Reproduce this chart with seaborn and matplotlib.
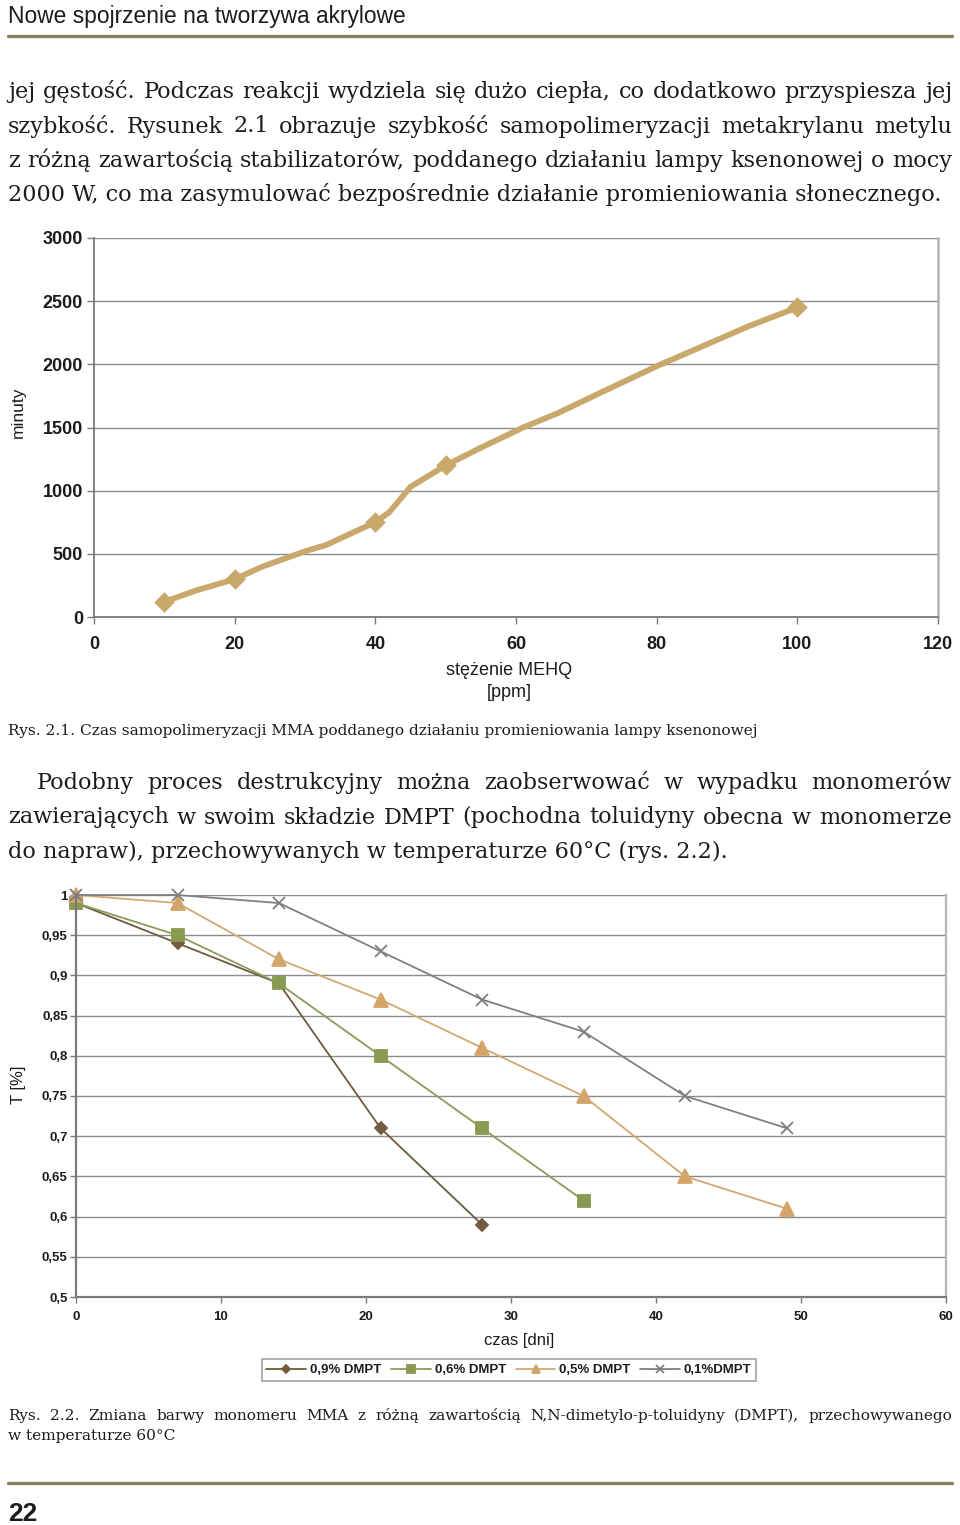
import matplotlib
matplotlib.use("Agg")
import matplotlib.pyplot as plt
import seaborn as sns

# Rys. 2.1 - czas samopolimeryzacji MMA vs stezenie MEHQ
mehq_ppm = [10, 14.5, 17, 20, 24, 27, 30, 33, 40, 42, 45, 50, 55, 61, 66, 72, 80, 93, 100]
czas_min = [120, 210, 250, 300, 400, 460, 520, 570, 750, 830, 1030, 1200, 1340, 1500,
            1615, 1775, 1985, 2300, 2450]
mehq_pkt = [10, 20, 40, 50, 100]
czas_pkt = [120, 300, 750, 1200, 2450]

# Rys. 2.2 - transmitancja vs czas przechowywania
dni = [0, 7, 14, 21, 28, 35, 42, 49]
t_09 = [0.99, 0.94, 0.89, 0.71, 0.59]
t_06 = [0.99, 0.95, 0.89, 0.80, 0.71, 0.62]
t_05 = [1.00, 0.99, 0.92, 0.87, 0.81, 0.75, 0.65, 0.61]
t_01 = [1.00, 1.00, 0.99, 0.93, 0.87, 0.83, 0.75, 0.71]
serie = ["0,9% DMPT", "0,6% DMPT", "0,5% DMPT", "0,1%DMPT"]

y1_ticks = [0, 500, 1000, 1500, 2000, 2500, 3000]
x1_ticks = [0, 20, 40, 60, 80, 100, 120]
y2_ticks = [0.5, 0.55, 0.6, 0.65, 0.7, 0.75, 0.8, 0.85, 0.9, 0.95, 1.0]
y2_labels = ["0,5", "0,55", "0,6", "0,65", "0,7", "0,75", "0,8", "0,85", "0,9", "0,95", "1"]
x2_ticks = [0, 10, 20, 30, 40, 50, 60]

sns.set_theme(style="white")
plt.rcParams["font.family"] = ["Liberation Sans", "DejaVu Sans"]

W, H = 960, 1525
fig = plt.figure(figsize=(W / 100, H / 100), dpi=100)
renderer = fig.canvas.get_renderer()


def fx(x):
    return x / W


def fy(y):
    return 1 - y / H


def put_line(s, x, y, size, family, right=None, **kw):
    # right -> justify the words between x and right
    if right is None:
        fig.text(fx(x), fy(y), s, fontsize=size, family=family, va="baseline", ha="left", **kw)
        return
    words = s.split()
    arts = [fig.text(0, fy(y), w, fontsize=size, family=family, va="baseline", ha="left", **kw)
            for w in words]
    widths = [a.get_window_extent(renderer).width for a in arts]
    gap = (right - x - sum(widths)) / (len(words) - 1)
    pos = x
    for a, w in zip(arts, widths):
        a.set_x(fx(pos))
        pos += w + gap


grid_c = "#8c8c8c"
rule_c = "#8a7d60"
ink = "#1c1c1c"
serif = ["DejaVu Serif"]

# naglowek i stopka
put_line("Nowe spojrzenie na tworzywa akrylowe", 8, 23, 16.4,
         ["Liberation Sans Narrow", "DejaVu Sans Condensed", "Liberation Sans"], color=ink)
fig.add_artist(plt.Line2D([fx(8), fx(952)], [fy(36), fy(36)], color=rule_c, lw=2.4))
fig.add_artist(plt.Line2D([fx(8), fx(952)], [fy(1483), fy(1483)], color=rule_c, lw=2.4))
put_line("22", 8, 1521, 19, ["Liberation Sans Narrow", "DejaVu Sans Condensed", "Liberation Sans"],
         color=ink, fontweight="bold")

# tekst
body = 16.1
cap = 11.1
put_line("jej gęstość. Podczas reakcji wydziela się dużo ciepła, co dodatkowo przyspiesza jej",
         8, 98, body, serif, right=952, color=ink)
put_line("szybkość. Rysunek 2.1 obrazuje szybkość samopolimeryzacji metakrylanu metylu",
         8, 132.5, body, serif, right=952, color=ink)
put_line("z różną zawartością stabilizatorów, poddanego działaniu lampy ksenonowej o mocy",
         8, 167, body, serif, right=952, color=ink)
put_line("2000 W, co ma zasymulować bezpośrednie działanie promieniowania słonecznego.",
         8, 201, body, serif, color=ink)
put_line("Rys. 2.1. Czas samopolimeryzacji MMA poddanego działaniu promieniowania lampy ksenonowej",
         8, 735, cap, serif, color=ink)
put_line("Podobny proces destrukcyjny można zaobserwować w wypadku monomerów",
         37, 789, body, serif, right=952, color=ink)
put_line("zawierających w swoim składzie DMPT (pochodna toluidyny obecna w monomerze",
         8, 823.5, body, serif, right=952, color=ink)
put_line("do napraw), przechowywanych w temperaturze 60°C (rys. 2.2).",
         8, 858, body, serif, color=ink)
put_line("Rys. 2.2. Zmiana barwy monomeru MMA z różną zawartością N,N-dimetylo-p-toluidyny (DMPT), przechowywanego",
         8, 1420, cap, serif, right=952, color=ink)
put_line("w temperaturze 60°C", 8, 1440, cap, serif, color=ink)

# ---------------- wykres 1
ax1 = fig.add_axes([fx(94), fy(617), (938 - 94) / W, (617 - 238) / H])
tan = "#c9a86c"
sns.lineplot(x=mehq_ppm, y=czas_min, ax=ax1, color=tan, lw=4.2, solid_joinstyle="round")
sns.scatterplot(x=mehq_pkt, y=czas_pkt, ax=ax1, color=tan, marker="D", s=110,
                edgecolor=tan, linewidth=0, zorder=5, clip_on=False)
ax1.set_xlim(0, 120)
ax1.set_ylim(0, 3000)
ax1.set_xticks(x1_ticks)
ax1.set_yticks(y1_ticks)
ax1.yaxis.grid(True, color=grid_c, lw=1)
ax1.set_axisbelow(True)
for s in ["left", "bottom"]:
    ax1.spines[s].set_color("#7a7a7a")
    ax1.spines[s].set_linewidth(1.3)
ax1.spines["right"].set_color("#b4b4b4")
ax1.spines["right"].set_linewidth(1.8)
ax1.spines["top"].set_visible(False)
ax1.tick_params(axis="both", direction="out", length=5, width=1, color="#7a7a7a",
                labelsize=13, labelcolor=ink, bottom=True, left=True)
ax1.tick_params(axis="x", pad=9)
ax1.tick_params(axis="y", pad=3)
for lab in ax1.get_xticklabels() + ax1.get_yticklabels():
    lab.set_fontweight("bold")
fig.text(fx(509), fy(671), "stężenie MEHQ", ha="center", va="center", fontsize=13, color=ink)
fig.text(fx(509), fy(693), "[ppm]", ha="center", va="center", fontsize=13, color=ink)
fig.text(fx(18), fy(412), "minuty", ha="center", va="center", rotation=90, fontsize=12.5,
         color=ink)

# ---------------- wykres 2
ax2 = fig.add_axes([fx(76), fy(1297), (946 - 76) / W, (1297 - 895) / H])
styl = [
    ("#735c3d", "D", 6.5, t_09),
    ("#8a9a50", "s", 8.5, t_06),
    ("#d4a56a", "^", 9.5, t_05),
    ("#7f7f7f", "x", 8.5, t_01),
]
line_c = ["#6e5a3e", "#8d9a5a", "#d2a872", "#808080"]
for (c, m, ms, vals), lc, name in zip(styl, line_c, serie):
    sns.lineplot(x=dni[:len(vals)], y=vals, ax=ax2, color=lc, lw=1.3, marker=m,
                 markersize=ms, markerfacecolor=c, markeredgecolor=c,
                 markeredgewidth=1.3, label=name, clip_on=False)
ax2.set_xlim(0, 60)
ax2.set_ylim(0.5, 1.0)
ax2.set_xticks(x2_ticks)
ax2.set_yticks(y2_ticks)
ax2.set_yticklabels(y2_labels)
ax2.yaxis.grid(True, color=grid_c, lw=1)
ax2.set_axisbelow(True)
for s in ["left", "bottom"]:
    ax2.spines[s].set_color("#7a7a7a")
    ax2.spines[s].set_linewidth(1.6)
ax2.spines["right"].set_color("#b4b4b4")
ax2.spines["right"].set_linewidth(1.6)
ax2.spines["top"].set_visible(False)
ax2.tick_params(axis="both", direction="out", length=4, width=1, color="#7a7a7a",
                labelsize=9.5, labelcolor=ink, bottom=True, left=True)
ax2.tick_params(axis="x", pad=6)
ax2.tick_params(axis="y", pad=2)
for lab in ax2.get_xticklabels() + ax2.get_yticklabels():
    lab.set_fontweight("bold")
ax2.get_legend().remove()
h, l = ax2.get_legend_handles_labels()
leg = fig.legend(h, l, loc="center", bbox_to_anchor=(fx(509), fy(1370)), ncol=4,
                 frameon=True, fancybox=False, edgecolor="#8c8c8c", markerscale=0.6,
                 handlelength=3.0, handletextpad=0.3, columnspacing=0.75, borderpad=0.35,
                 prop={"size": 9.5, "weight": "bold"})
leg.get_frame().set_linewidth(1.2)
for t in leg.get_texts():
    t.set_color(ink)
fig.text(fx(519), fy(1340), "czas [dni]", ha="center", va="center", fontsize=12, color=ink)
fig.text(fx(18), fy(1085), "T [%]", ha="center", va="center", rotation=90, fontsize=12,
         color=ink)

fig.savefig("out.png", dpi=100, facecolor="white")
